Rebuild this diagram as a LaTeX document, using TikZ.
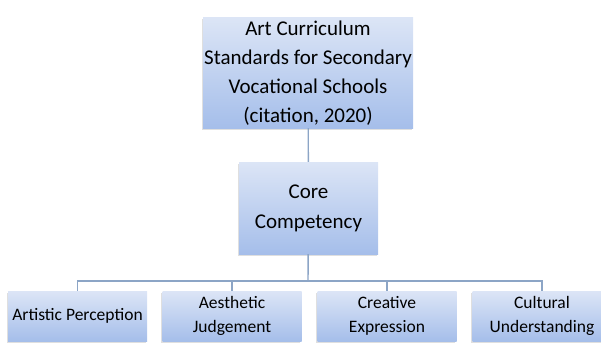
\documentclass[tikz,border=0pt]{standalone}
\usepackage{fontspec}
\setmainfont{Carlito}
\usetikzlibrary{shadows}
\definecolor{boxtop}{HTML}{DCE5F6}
\definecolor{boxbottom}{HTML}{A5BEEA}
\definecolor{linkblue}{HTML}{8CA5C6}
\begin{document}
\begin{tikzpicture}[x = 1pt, y = -1pt,
	box/.style = {top color = boxtop, bottom color = boxbottom, draw = none, inner sep = 0pt, align = center,
		drop shadow = {shadow xshift = -1.5pt, shadow yshift = -1.5pt, opacity = 0.25}},
	leaf/.style = {box, minimum width = 139pt, minimum height = 50pt, font = \fontsize{17.5}{24}\selectfont},
	link/.style = {draw = linkblue, line width = 1.4pt}]
	\useasboundingbox (0, 0) rectangle (601, 342);
	\node[box, minimum width = 210pt, minimum height = 110pt, font = \fontsize{21}{29}\selectfont] (standards) at (308, 73) {Art Curriculum\\Standards for Secondary\\Vocational Schools\\(citation, 2020)};
	\node[box, minimum width = 139pt, minimum height = 92pt, font = \fontsize{21}{30}\selectfont] (core) at (308.5, 208) {Core\\Competency};
	\node[leaf] (perception) at (77.5, 316) {Artistic Perception};
	\node[leaf] (judgement) at (232, 316) {Aesthetic\\Judgement};
	\node[leaf] (expression) at (387, 316) {Creative\\Expression};
	\node[leaf] (understanding) at (542, 316) {Cultural\\Understanding};
	\coordinate (branch) at (308, 281);
	\draw[link] (standards) -- (core);
	\draw[link] (core) -- (branch);
	\foreach \child in {perception, judgement, expression, understanding}
		\draw[link] (branch) -| (\child);
\end{tikzpicture}
\end{document}
